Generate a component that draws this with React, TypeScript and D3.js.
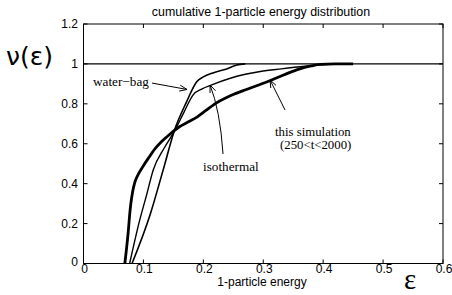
import React from "react";
import * as d3 from "d3";

// ---- data ----
const xTicks = [0, 0.1, 0.2, 0.3, 0.4, 0.5, 0.6];
const yTicks = [0, 0.2, 0.4, 0.6, 0.8, 1, 1.2];
const xTickLabels = ["0", "0.1", "0.2", "0.3", "0.4", "0.5", "0.6"];
const yTickLabels = ["0", "0.2", "0.4", "0.6", "0.8", "1", "1.2"];

const waterBagE = [0.081, 0.111, 0.133, 0.152, 0.172, 0.189, 0.2, 0.216, 0.239, 0.256, 0.27];
const waterBagV = [0, 0.243, 0.469, 0.669, 0.81, 0.911, 0.935, 0.955, 0.975, 0.995, 1.0];

const isoE = [0.077, 0.094, 0.105, 0.1165, 0.135, 0.153, 0.168, 0.183, 0.198, 0.214, 0.245, 0.27, 0.295, 0.33, 0.37, 0.41, 0.43];
const isoV = [0, 0.22, 0.34, 0.47, 0.58, 0.67, 0.76, 0.845, 0.875, 0.895, 0.928, 0.948, 0.962, 0.975, 0.988, 0.998, 1.0];

const simE = [0.069, 0.072, 0.075, 0.077, 0.079, 0.082, 0.086, 0.092, 0.1, 0.11, 0.118, 0.13, 0.145, 0.16, 0.175, 0.19, 0.205, 0.217, 0.245, 0.272, 0.29, 0.311, 0.335, 0.361, 0.38, 0.395, 0.42, 0.45];
const simV = [0, 0.08, 0.17, 0.243, 0.3, 0.36, 0.41, 0.45, 0.49, 0.535, 0.57, 0.61, 0.65, 0.685, 0.71, 0.735, 0.768, 0.795, 0.84, 0.872, 0.892, 0.916, 0.946, 0.975, 0.99, 0.998, 1.0, 1.0];

const refLineE = [0, 0.6];
const refLineV = [1, 1];

const W = 452;
const H = 295;

export default function App() {
  const x = d3.scaleLinear().domain([0, 0.6]).range([83.5, 443]);
  const y = d3.scaleLinear().domain([0, 1.2]).range([263.5, 24]);

  const line = d3
    .line<[number, number]>()
    .x((d) => x(d[0]))
    .y((d) => y(d[1]))
    .curve(d3.curveMonotoneX);

  const zip = (a: number[], b: number[]) => a.map((v, i) => [v, b[i]] as [number, number]);

  const sans = "'Liberation Sans', Arial, Helvetica, sans-serif";
  const serif = "'Liberation Serif', 'Times New Roman', serif";

  const arrowHead = (x1: number, y1: number, x2: number, y2: number, len = 8, ang = 0.38) => {
    const a = Math.atan2(y2 - y1, x2 - x1);
    const p1 = [x2 - len * Math.cos(a - ang), y2 - len * Math.sin(a - ang)];
    const p2 = [x2 - len * Math.cos(a + ang), y2 - len * Math.sin(a + ang)];
    return `M${p1[0]},${p1[1]}L${x2},${y2}L${p2[0]},${p2[1]}`;
  };

  // annotation arrows in data coordinates
  const wbTail: [number, number] = [0.1144, 0.904];
  const wbTip: [number, number] = [0.1728, 0.872];
  const isoTail: [number, number] = [0.2329, 0.5487];
  const isoCtrl: [number, number] = [0.2279, 0.769];
  const isoTip: [number, number] = [0.2112, 0.8944];
  const simTail: [number, number] = [0.3364, 0.769];
  const simTip: [number, number] = [0.3114, 0.919];

  const P = (p: [number, number]) => [x(p[0]), y(p[1])];
  const [wbx1, wby1] = P(wbTail);
  const [wbx2, wby2] = P(wbTip);
  const [ix1, iy1] = P(isoTail);
  const [icx, icy] = P(isoCtrl);
  const [ix2, iy2] = P(isoTip);
  const [sx1, sy1] = P(simTail);
  const [sx2, sy2] = P(simTip);

  const x0 = x(0), x1 = x(0.6), y0 = y(0), y1 = y(1.2);
  const tl = 4;

  return (
    <svg width={W} height={H} style={{ position: "absolute", left: 0, top: 0, background: "#fff" }}>
      <rect x={0} y={0} width={W} height={H} fill="#fff" />
      {/* title */}
      <text x={261} y={16} textAnchor="middle" fontFamily={sans} fontSize={12.4}>
        cumulative 1-particle energy distribution
      </text>

      {/* frame */}
      <rect x={x0} y={y1} width={x1 - x0} height={y0 - y1} fill="none" stroke="#000" strokeWidth={1} />

      {/* ticks */}
      {xTicks.map((t, i) => (
        <g key={"xt" + i}>
          <line x1={x(t)} x2={x(t)} y1={y0} y2={y0 - tl} stroke="#000" />
          <line x1={x(t)} x2={x(t)} y1={y1} y2={y1 + tl} stroke="#000" />
          <text x={x(t) + 1} y={273} textAnchor="middle" fontFamily={sans} fontSize={12}>
            {xTickLabels[i]}
          </text>
        </g>
      ))}
      {yTicks.map((t, i) => (
        <g key={"yt" + i}>
          <line x1={x0} x2={x0 + tl} y1={y(t)} y2={y(t)} stroke="#000" />
          <line x1={x1} x2={x1 - tl} y1={y(t)} y2={y(t)} stroke="#000" />
          <text x={78} y={y(t) + (t === 0 ? 2 : 4)} textAnchor="end" fontFamily={sans} fontSize={12}>
            {yTickLabels[i]}
          </text>
        </g>
      ))}

      {/* reference line at 1 */}
      <path d={line(zip(refLineE, refLineV)) || ""} fill="none" stroke="#000" strokeWidth={1.2} />

      {/* curves */}
      <path d={line(zip(waterBagE, waterBagV)) || ""} fill="none" stroke="#000" strokeWidth={1.6} />
      <path d={line(zip(isoE, isoV)) || ""} fill="none" stroke="#000" strokeWidth={1.4} />
      <path d={line(zip(simE, simV)) || ""} fill="none" stroke="#000" strokeWidth={2.8} />

      {/* annotations */}
      <text x={x(0.016)} y={y(0.889)} fontFamily={serif} fontSize={13.2}>water−bag</text>
      <line x1={wbx1} y1={wby1} x2={wbx2} y2={wby2} stroke="#000" strokeWidth={1} />
      <path d={arrowHead(wbx1, wby1, wbx2, wby2)} fill="none" stroke="#000" strokeWidth={1} />

      <text x={x(0.1995)} y={y(0.461)} fontFamily={serif} fontSize={13.2}>isothermal</text>
      <path d={`M${ix1},${iy1}Q${icx},${icy} ${ix2},${iy2}`} fill="none" stroke="#000" strokeWidth={1} />
      <path d={arrowHead(icx, icy, ix2, iy2)} fill="none" stroke="#000" strokeWidth={1} />

      <text x={x(0.3197)} y={y(0.638)} fontFamily={serif} fontSize={12.8}>this simulation</text>
      <text x={x(0.328)} y={y(0.572)} fontFamily={serif} fontSize={12.8}>(250&lt;t&lt;2000)</text>
      <line x1={sx1} y1={sy1} x2={sx2} y2={sy2} stroke="#000" strokeWidth={1} />
      <path d={arrowHead(sx1, sy1, sx2, sy2)} fill="none" stroke="#000" strokeWidth={1} />

      {/* axis labels */}
      <text x={262} y={286} textAnchor="middle" fontFamily={sans} fontSize={12}>1-particle energy</text>
      <text x={404} y={289} fontFamily={serif} fontSize={29}>ε</text>
      <text x={6} y={65} fontFamily="'DejaVu Sans', sans-serif" fontSize={25}>ν(ε)</text>
    </svg>
  );
}
